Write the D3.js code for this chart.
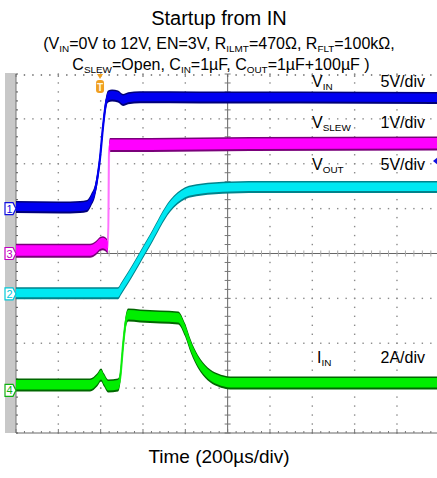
<!DOCTYPE html>
<meta charset="utf-8">
<head>
  <title>Startup from IN</title>
</head>
<style>
body {
  margin: 0;
  background: #fff;
  font-family: "Liberation Sans", Arial, Helvetica, sans-serif;
}
</style>
<body>
<svg id="chart" width="437" height="478"></svg>
<script src="https://cdnjs.cloudflare.com/ajax/libs/d3/7.8.5/d3.min.js"></script>
<script>
// scope settings (V/div or A/div) and ground marker position in divisions from bottom
var chNames = ["1", "3", "2", "4"];
var perDiv = [5, 1, 5, 2];
var groundDiv = [5.0, 4.0, 3.1, 0.95];

// VIN (V) vs time (us)
var vinT = [0, 208, 303, 336, 355, 374, 383, 397, 411, 426, 435, 454, 482, 506, 530, 586, 870, 1343, 2000];
var vinV = [0.18, 0.12, 0.18, 0.29, 0.96, 2.07, 3.19, 5.64, 9.09, 11.88, 12.5, 12.6, 12.5, 12.1, 12.3, 12.4, 12.38, 12.38, 12.32];

// VSLEW (V)
var slewT = [0, 350, 378, 397, 411, 426, 435, 440, 444, 634, 1106, 2000];
var slewV = [0.06, 0.06, 0.12, 0.21, 0.23, 0.19, 0.14, 2.31, 2.42, 2.42, 2.44, 2.45];

// VOUT (V)
var voutT = [0, 482, 496, 634, 728, 799, 870, 1012, 1100, 2000];
var voutV = [0.07, 0.07, 0.55, 6.0, 9.79, 11.2, 11.6, 11.84, 11.9, 11.91];

// IIN (A)
var iinT = [0, 350, 383, 402, 416, 435, 482, 492, 506, 520, 530, 586, 681, 766, 799, 827, 860, 906, 954, 1012, 2000];
var iinA = [0.24, 0.24, 0.46, 0.69, 0.46, 0.2, 0.24, 0.55, 2.02, 3.14, 3.36, 3.32, 3.27, 3.23, 2.69, 1.93, 1.27, 0.73, 0.46, 0.33, 0.33];

var labelMain = ["V", "V", "V", "I"];
var labelSub = ["IN", "SLEW", "OUT", "IN"];
var labelScale = ["5V/div", "1V/div", "5V/div", "2A/div"];
var labelDiv = [7.7, 6.8, 5.85, 1.55];

var svg = d3.select("#chart");

var pLeft = 16, pRight = 439.3, pTop = 74, pBottom = 433;

var xs = d3.scaleLinear().domain([0, 10]).range([pLeft, pRight]);
var ys = d3.scaleLinear().domain([0, 8]).range([pBottom, pTop]);
var xt = d3.scaleLinear().domain([0, 2000]).range([pLeft, pRight]);

// ---- titles
function rich(x, y, size, parts, anchor) {
  var t = svg.append("text")
    .attr("x", x).attr("y", y)
    .attr("font-size", size)
    .attr("fill", "#000")
    .attr("text-anchor", anchor || "middle");
  parts.forEach(function(p) {
    if (p[1] == "sub") {
      t.append("tspan").attr("font-size", size * 0.62).attr("dy", 3).text(p[0]);
    } else {
      var s = t.append("tspan").text(p[0]);
      if (p[1] == "up") s.attr("dy", -3);
    }
  });
  return t;
}

rich(219, 25, 20, [["Startup from IN"]]);
rich(219, 49, 16, [["(V"], ["IN", "sub"], ["=0V to 12V, EN=3V, R", "up"], ["ILMT", "sub"], ["=470\u03A9, R", "up"], ["FLT", "sub"], ["=100k\u03A9,", "up"]]);
rich(221, 70, 16, [["C"], ["SLEW", "sub"], ["=Open, C", "up"], ["IN", "sub"], ["=1\u00B5F, C", "up"], ["OUT", "sub"], ["=1\u00B5F+100\u00B5F )", "up"]]);
rich(219, 463, 19, [["Time (200\u00B5s/div)"]]);

// ---- left gray bar
svg.append("rect")
  .attr("x", 5).attr("y", pTop - 1)
  .attr("width", pLeft - 5).attr("height", pBottom - pTop + 1)
  .attr("fill", "#c8c8c8");

// ---- grid dots
var dots = svg.append("g").attr("fill", "#8a8a8a");
d3.range(1, 8).forEach(function(i) {
  if (i == 4) return;
  d3.range(0, 50.1, 1).forEach(function(k) {
    dots.append("rect").attr("x", xs(k * 0.2) - 0.7).attr("y", ys(i) - 0.7).attr("width", 1.4).attr("height", 1.4);
  });
});
d3.range(1, 10).forEach(function(j) {
  if (j == 5) return;
  d3.range(0, 40.1, 1).forEach(function(k) {
    dots.append("rect").attr("x", xs(j) - 0.7).attr("y", ys(k * 0.2) - 0.7).attr("width", 1.4).attr("height", 1.4);
  });
});
// top edge ticks
d3.range(0, 50.1, 1).forEach(function(k) {
  dots.append("rect").attr("x", xs(k * 0.2) - 0.7).attr("y", pTop).attr("width", 1.4).attr("height", k % 5 == 0 ? 3 : 2);
});

// ---- center crosshair
var cross = svg.append("g");
cross.append("line")
  .attr("x1", xs(5)).attr("x2", xs(5)).attr("y1", pTop).attr("y2", pBottom)
  .attr("stroke", "#666").attr("stroke-width", 1);
cross.append("line")
  .attr("x1", pLeft).attr("x2", pRight).attr("y1", ys(4)).attr("y2", ys(4))
  .attr("stroke", "#666").attr("stroke-width", 1.2);
d3.range(0, 40.1, 1).forEach(function(k) {
  cross.append("line")
    .attr("x1", xs(5) - 3).attr("x2", xs(5) + 3)
    .attr("y1", ys(k * 0.2)).attr("y2", ys(k * 0.2))
    .attr("stroke", "#777").attr("stroke-width", 1);
});
d3.range(0, 50.1, 1).forEach(function(k) {
  cross.append("line")
    .attr("x1", xs(k * 0.2)).attr("x2", xs(k * 0.2))
    .attr("y1", ys(4) - 3).attr("y2", ys(4) + 3)
    .attr("stroke", "#aaa").attr("stroke-width", 1);
});

// ---- bottom and left edges
svg.append("line")
  .attr("x1", pLeft).attr("x2", pRight).attr("y1", pBottom).attr("y2", pBottom)
  .attr("stroke", "#666").attr("stroke-width", 1);
svg.append("line")
  .attr("x1", pLeft).attr("x2", pLeft).attr("y1", pTop).attr("y2", pBottom)
  .attr("stroke", "#777").attr("stroke-width", 1);
d3.range(0, 50.1, 1).forEach(function(k) {
  svg.append("line")
    .attr("x1", xs(k * 0.2)).attr("x2", xs(k * 0.2))
    .attr("y1", pBottom).attr("y2", pBottom - (k % 5 == 0 ? 4 : 2))
    .attr("stroke", "#777");
});
d3.range(0, 40.1, 1).forEach(function(k) {
  svg.append("line")
    .attr("x1", pLeft).attr("x2", pLeft + 2)
    .attr("y1", ys(k * 0.2)).attr("y2", ys(k * 0.2))
    .attr("stroke", "#555");
});

// ---- traces
var traces = [
  {t: iinT, v: iinA, ch: 3, bright: "#00ee00", dark: "#006800", edge: "#22ee22", h: 6.5},
  {t: voutT, v: voutV, ch: 2, bright: "#00e8f2", dark: "#00838c", edge: "#00e8f2", h: 6},
  {t: slewT, v: slewV, ch: 1, bright: "#ff00ff", dark: "#7a007a", edge: "#ff80ff", h: 7},
  {t: vinT, v: vinV, ch: 0, bright: "#0000f0", dark: "#000078", edge: "#0000f0", h: 6}
];

traces.forEach(function(tr) {
  var pts = tr.t.map(function(t, i) { return [t, tr.v[i]]; });
  var yv = function(d) { return ys(groundDiv[tr.ch] + d[1] / perDiv[tr.ch]); };
  var g = svg.append("g");

  var outer = d3.area()
    .x(function(d) { return xt(d[0]); })
    .y0(function(d) { return yv(d) + tr.h; })
    .y1(function(d) { return yv(d) - tr.h; })
    .curve(d3.curveMonotoneX);
  var inner = d3.area()
    .x(function(d) { return xt(d[0]); })
    .y0(function(d) { return yv(d) + tr.h - 2; })
    .y1(function(d) { return yv(d) - tr.h + 1.5; })
    .curve(d3.curveMonotoneX);
  var line = d3.line()
    .x(function(d) { return xt(d[0]); })
    .y(yv)
    .curve(d3.curveMonotoneX);

  g.append("path").datum(pts).attr("d", outer).attr("fill", tr.dark);
  g.append("path").datum(pts).attr("d", line)
    .attr("fill", "none").attr("stroke", tr.edge).attr("stroke-width", 2.2);
  g.append("path").datum(pts).attr("d", inner).attr("fill", tr.bright);
});

// ---- channel ground markers
var chColors = ["#1010e0", "#c000c0", "#00c8d8", "#10b010"];
groundDiv.forEach(function(gd, i) {
  var y = ys(gd);
  var m = svg.append("g");
  m.append("path")
    .attr("d", "M5," + (y - 6) + " L13," + (y - 6) + " L16," + y + " L13," + (y + 6) + " L5," + (y + 6) + " Z")
    .attr("fill", "#fff").attr("stroke", chColors[i]).attr("stroke-width", 1.2);
  m.append("text")
    .attr("x", 9.5).attr("y", y + 4)
    .attr("text-anchor", "middle")
    .attr("font-size", 11)
    .attr("fill", chColors[i])
    .text(chNames[i]);
});

// ---- trigger markers
var trigX = xt(397);
svg.append("path")
  .attr("d", "M" + (trigX - 3) + "," + pTop + " L" + (trigX + 3) + "," + pTop + " L" + trigX + "," + (pTop + 5) + " Z")
  .attr("fill", "#f0a020");
svg.append("rect")
  .attr("x", trigX - 4).attr("y", pTop + 6).attr("width", 8).attr("height", 13).attr("rx", 3)
  .attr("fill", "#f0a020");
svg.append("text")
  .attr("x", trigX).attr("y", pTop + 16.5)
  .attr("text-anchor", "middle").attr("font-size", 10).attr("font-weight", "bold")
  .attr("fill", "#fff8e0").text("T");
svg.append("path")
  .attr("d", "M433,161 L438,157 L438,165 Z")
  .attr("fill", "#1010e0");

// ---- channel labels
labelDiv.forEach(function(d, i) {
  var y = ys(d);
  rich(labelMain[i] == "I" ? 317 : 312, y, 16, [[labelMain[i]], [labelSub[i], "sub"]], "start");
  rich(425, y, 16, [[labelScale[i]]], "end");
});
</script>
</body>
